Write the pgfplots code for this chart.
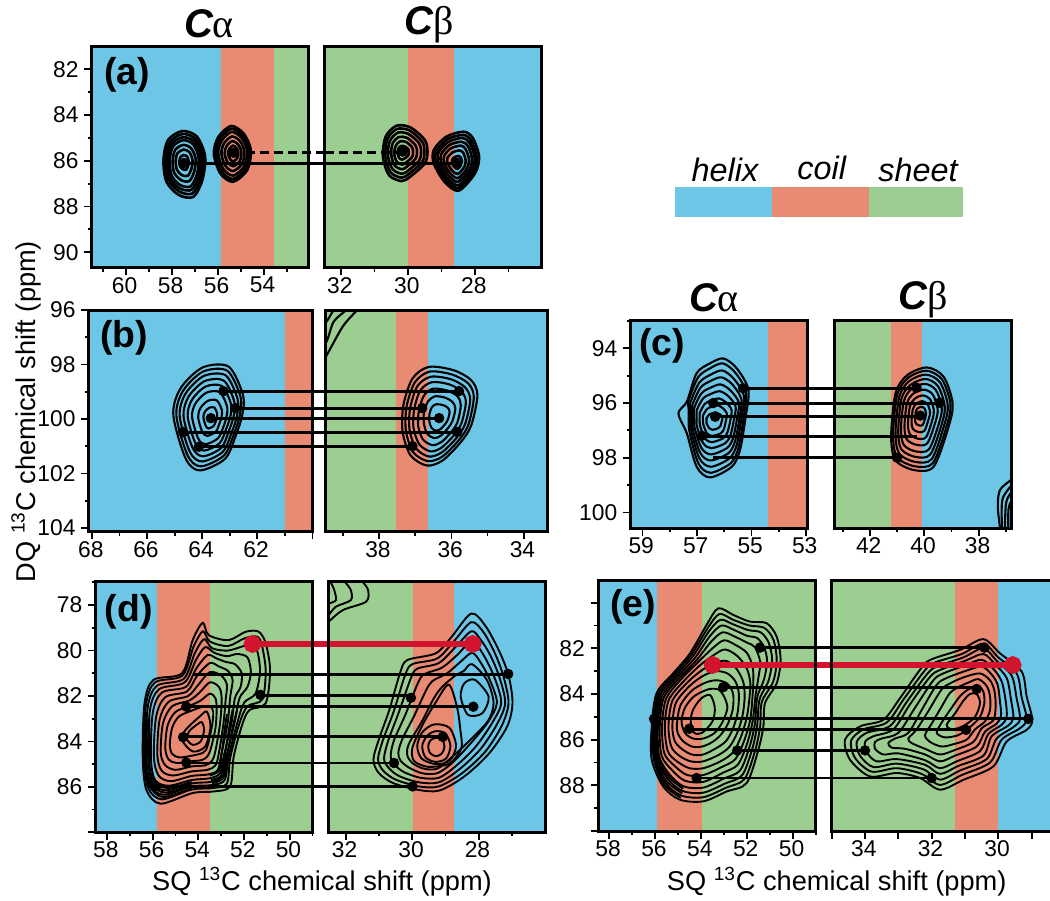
\documentclass[border=0pt]{standalone}
\usepackage{fontspec}
\setmainfont{Liberation Sans}
\newfontfamily\symf{Liberation Serif}
\usepackage{pgfplots}
\pgfplotsset{compat=1.18}
\definecolor{hx}{HTML}{6EC6E6}
\definecolor{cl}{HTML}{E88B72}
\definecolor{sh}{HTML}{9DCE91}
\definecolor{rd}{HTML}{D2142F}
\newcommand\Fs[1]{\fontsize{#1}{#1}\selectfont}
\newcommand\Band[5]{\addplot[fill=#5,draw=none,forget plot] coordinates {(#1,#3)(#2,#3)(#2,#4)(#1,#4)} -- cycle;}
\newcommand\C[1]{\addplot[ct] coordinates {#1};}
\newcommand\A[1]{\addplot[ct,sharp plot,smooth] coordinates {#1};}
\newcommand\Ln[1]{\addplot[lk] coordinates {#1};}
\newcommand\Dots[1]{\addplot[only marks,mark=*,mark size=2.4pt,black,forget plot] coordinates {#1};}
\newcommand\Red[2]{\addplot[rd,line width=3.2pt,mark=*,mark size=2.8pt,mark indices={#1},mark options={fill=rd,draw=rd},forget plot] coordinates {#2};}
\pgfplotsset{
  panel/.style={
    scale only axis,anchor=north west,x dir=reverse,y dir=reverse,axis on top,
    axis line style={line width=1.5pt},
    tick style={line width=.9pt,black},
    major tick length=3.8pt,minor tick length=2pt,tick align=outside,
    xtick pos=bottom,ytick pos=left,
    ticklabel style={font=\Fs{11.4}},
    xticklabel style={yshift=2.6pt,xshift=-.6pt},
    yticklabel style={xshift=.6pt},
    ct/.style={black,line width=.95pt,smooth cycle,no marks,forget plot},
    lk/.style={black,line width=1.4pt,no marks,forget plot},
  },
  noy/.style={ytick=\empty},
  heavy/.style={ct/.append style={line width=1.3pt}},
  mid/.style={ct/.append style={line width=1.05pt},lk/.append style={line width=1.5pt}},
}
\begin{document}
\begin{tikzpicture}
\useasboundingbox (0,0) rectangle (525pt,-450pt);

% (a) C alpha
\begin{axis}[panel,heavy,clip=false,at={(46pt,-23.35pt)},width=108.5pt,height=110.5pt,
  xmin=52.03,xmax=61.47,ymin=81.01,ymax=90.68,
  xtick={60,58,56,54,52},xticklabels={60,58,56,54,{}},minor xtick={61,59,57,55,53},
  ytick={82,84,86,88,90},yticklabels={82,84,86,88,90},minor ytick={83,85,87,89}]
\Band{61.47}{55.86}{81.01}{90.68}{hx}
\Band{55.86}{53.56}{81.01}{90.68}{cl}
\Band{53.56}{52.03}{81.01}{90.68}{sh}
\C{(57.53,84.70)(56.90,84.95)(56.55,85.82)(56.67,86.85)(57.06,87.58)(57.69,87.50)(58.23,86.92)(58.36,85.97)(58.16,85.09)}
\C{(57.52,84.83)(56.96,85.06)(56.64,85.84)(56.75,86.77)(57.10,87.43)(57.67,87.35)(58.15,86.83)(58.27,85.98)(58.09,85.19)}
\C{(57.52,84.97)(57.01,85.17)(56.73,85.87)(56.83,86.69)(57.14,87.27)(57.65,87.21)(58.08,86.75)(58.18,85.99)(58.02,85.28)}
\C{(57.51,85.10)(57.07,85.28)(56.83,85.89)(56.91,86.61)(57.18,87.12)(57.62,87.07)(58.00,86.66)(58.09,85.99)(57.95,85.38)}
\C{(57.50,85.31)(57.16,85.45)(56.96,85.92)(57.03,86.49)(57.24,86.89)(57.59,86.85)(57.89,86.53)(57.96,86.01)(57.85,85.52)}
\C{(57.49,85.51)(57.24,85.61)(57.10,85.96)(57.15,86.37)(57.31,86.66)(57.56,86.63)(57.77,86.40)(57.83,86.02)(57.75,85.67)}
\C{(57.48,85.75)(57.34,85.81)(57.27,86.00)(57.29,86.23)(57.38,86.39)(57.52,86.37)(57.64,86.24)(57.67,86.03)(57.62,85.84)}
\C{(55.42,84.48)(54.88,84.80)(54.56,85.53)(54.72,86.41)(55.34,86.92)(55.89,86.55)(56.17,85.68)(55.97,84.95)}
\C{(55.41,84.60)(54.92,84.89)(54.63,85.54)(54.78,86.34)(55.34,86.80)(55.83,86.46)(56.08,85.68)(55.90,85.02)}
\C{(55.40,84.74)(54.97,84.99)(54.72,85.56)(54.85,86.25)(55.33,86.65)(55.76,86.36)(55.98,85.68)(55.82,85.11)}
\C{(55.38,84.94)(55.04,85.13)(54.84,85.59)(54.94,86.13)(55.33,86.45)(55.67,86.22)(55.84,85.68)(55.72,85.23)}
\C{(55.36,85.14)(55.12,85.28)(54.97,85.61)(55.04,86.01)(55.32,86.24)(55.57,86.07)(55.70,85.68)(55.61,85.35)}
\C{(55.34,85.34)(55.19,85.43)(55.10,85.64)(55.15,85.88)(55.32,86.03)(55.47,85.92)(55.55,85.68)(55.49,85.48)}
\Ln{(57.47,86.12)(51.33,86.12)}
\addplot[black,line width=1.3pt,dash pattern=on 4.5pt off 2.5pt,forget plot] coordinates {(54.75,85.64)(51.33,85.64)};
\Dots{(57.47,86.1)(55.31,85.65)}
\end{axis}

% (a) C beta
\begin{axis}[panel,heavy,noy,at={(162.5pt,-23.35pt)},width=108.5pt,height=110.5pt,
  xmin=26,xmax=32.48,ymin=81.01,ymax=90.68,
  xtick={32,30,28},xticklabels={32,30,28},minor xtick={31,29,27}]
\Band{32.48}{30}{81.01}{90.68}{sh}
\Band{30}{28.64}{81.01}{90.68}{cl}
\Band{28.64}{26}{81.01}{90.68}{hx}
\C{(30.35,84.47)(29.93,84.54)(29.50,85.09)(29.42,85.61)(29.50,86.12)(29.93,86.69)(30.19,86.89)(30.57,86.63)(30.75,85.82)(30.67,84.95)}
\C{(30.33,84.61)(29.96,84.67)(29.58,85.16)(29.51,85.61)(29.58,86.06)(29.96,86.56)(30.19,86.74)(30.52,86.51)(30.68,85.80)(30.61,85.03)}
\C{(30.30,84.77)(29.99,84.83)(29.67,85.23)(29.61,85.62)(29.67,86.00)(29.99,86.42)(30.18,86.57)(30.46,86.37)(30.60,85.77)(30.54,85.13)}
\C{(30.27,84.96)(30.03,85.00)(29.78,85.32)(29.73,85.62)(29.78,85.92)(30.03,86.25)(30.18,86.37)(30.40,86.21)(30.50,85.74)(30.46,85.24)}
\C{(30.24,85.15)(30.06,85.18)(29.88,85.41)(29.85,85.63)(29.88,85.84)(30.06,86.08)(30.17,86.17)(30.33,86.06)(30.41,85.72)(30.37,85.35)}
\C{(30.21,85.35)(30.10,85.37)(29.99,85.50)(29.98,85.63)(29.99,85.76)(30.10,85.90)(30.17,85.95)(30.26,85.89)(30.31,85.68)(30.29,85.47)}
\C{(28.33,84.73)(28.06,85.02)(27.88,85.82)(28.00,86.55)(28.49,87.31)(28.91,86.92)(29.23,86.12)(29.23,85.53)(28.86,84.95)}
\C{(28.35,84.87)(28.11,85.13)(27.95,85.85)(28.05,86.50)(28.49,87.19)(28.87,86.84)(29.16,86.12)(29.16,85.59)(28.83,85.06)}
\C{(28.37,85.00)(28.16,85.23)(28.01,85.87)(28.11,86.46)(28.50,87.07)(28.84,86.75)(29.09,86.11)(29.09,85.64)(28.80,85.18)}
\C{(28.40,85.17)(28.21,85.36)(28.09,85.91)(28.17,86.40)(28.51,86.92)(28.79,86.65)(29.01,86.11)(29.01,85.71)(28.76,85.31)}
\C{(28.42,85.34)(28.28,85.50)(28.18,85.94)(28.24,86.34)(28.51,86.76)(28.74,86.55)(28.92,86.11)(28.92,85.78)(28.72,85.46)}
\C{(28.46,85.55)(28.35,85.66)(28.28,85.98)(28.32,86.27)(28.52,86.58)(28.69,86.42)(28.82,86.10)(28.82,85.87)(28.67,85.63)}
\C{(28.49,85.79)(28.43,85.85)(28.39,86.03)(28.42,86.19)(28.53,86.36)(28.62,86.27)(28.69,86.10)(28.69,85.97)(28.61,85.84)}
\Ln{(32.48,86.12)(28.54,86.12)}
\addplot[black,line width=1.3pt,dash pattern=on 4.5pt off 2.5pt,forget plot] coordinates {(32.48,85.64)(30.16,85.64)};
\Dots{(30.16,85.6)(28.54,86.09)}
\end{axis}

% (b) C alpha
\begin{axis}[panel,mid,clip=false,at={(44.5pt,-155pt)},width=111.75pt,height=110.85pt,
  xmin=60,xmax=68.11,ymin=96,ymax=104.14,
  xtick={68,66,64,62,60},xticklabels={68,66,64,62,{}},minor xtick={67,65,63,61},
  ytick={96,98,100,102,104},yticklabels={96,98,100,102,104},minor ytick={97,99,101,103}]
\Band{68.11}{61}{96}{104.14}{hx}
\Band{61}{60}{96}{104.14}{cl}
\C{(63.04,98.08)(62.52,99.12)(62.55,99.86)(62.78,100.60)(63.17,101.46)(64.08,101.89)(64.60,101.46)(65.05,99.86)(64.79,98.88)(63.99,98.11)}
\C{(63.09,98.23)(62.61,99.19)(62.64,99.87)(62.85,100.55)(63.21,101.34)(64.05,101.74)(64.53,101.34)(64.94,99.87)(64.70,98.97)(63.97,98.26)}
\C{(63.15,98.40)(62.72,99.26)(62.74,99.88)(62.93,100.49)(63.26,101.21)(64.01,101.56)(64.45,101.21)(64.82,99.88)(64.60,99.06)(63.94,98.42)}
\C{(63.22,98.59)(62.84,99.35)(62.86,99.89)(63.03,100.43)(63.31,101.06)(63.97,101.37)(64.35,101.06)(64.68,99.89)(64.49,99.17)(63.91,98.61)}
\C{(63.29,98.79)(62.96,99.44)(62.98,99.90)(63.13,100.36)(63.37,100.89)(63.93,101.16)(64.25,100.89)(64.53,99.90)(64.37,99.29)(63.88,98.81)}
\C{(63.36,99.02)(63.10,99.54)(63.12,99.91)(63.23,100.28)(63.43,100.71)(63.89,100.93)(64.15,100.71)(64.37,99.91)(64.24,99.42)(63.84,99.03)}
\C{(63.47,99.32)(63.29,99.67)(63.30,99.93)(63.38,100.18)(63.51,100.47)(63.82,100.62)(64.00,100.47)(64.15,99.93)(64.06,99.59)(63.79,99.33)}
\C{(63.56,99.58)(63.46,99.79)(63.46,99.94)(63.51,100.09)(63.59,100.26)(63.77,100.35)(63.87,100.26)(63.96,99.94)(63.91,99.74)(63.75,99.59)}
\Ln{(63.23,98.98)(59.56,98.98)}
\Ln{(62.80,99.6)(59.56,99.6)}
\Ln{(63.69,99.97)(59.56,99.97)}
\Ln{(64.69,100.48)(59.56,100.48)}
\Ln{(64.12,101.02)(59.56,101.02)}
\Dots{(63.23,98.98)(62.80,99.6)(63.69,99.97)(64.69,100.48)(64.12,101.02)}
\end{axis}

% (b) C beta
\begin{axis}[panel,mid,noy,at={(162.5pt,-155pt)},width=111.25pt,height=110.85pt,
  xmin=33.34,xmax=39.5,ymin=96,ymax=104.14,
  xtick={38,36,34},xticklabels={38,36,34},minor xtick={39,37,35}]
\Band{39.5}{37.54}{96}{104.14}{sh}
\Band{37.54}{36.65}{96}{104.14}{cl}
\Band{36.65}{33.34}{96}{104.14}{hx}
\A{(38.50,95.8)(38.61,96)(39.01,96.61)(39.48,97.72)(39.7,98.1)}
\A{(38.80,95.8)(38.91,96)(39.26,96.43)(39.46,97.17)(39.7,97.5)}
\A{(39.15,95.8)(39.26,96)(39.46,96.43)(39.7,96.8)}
\C{(36.63,98.09)(35.94,98.21)(35.45,98.58)(35.28,99.13)(35.45,100.23)(35.74,100.85)(36.24,101.52)(36.68,101.71)(37.13,101.34)(37.35,100.48)(37.33,99.50)(37.08,98.52)}
\C{(36.60,98.26)(35.98,98.37)(35.53,98.70)(35.38,99.20)(35.53,100.21)(35.79,100.77)(36.25,101.38)(36.65,101.55)(37.06,101.22)(37.26,100.43)(37.24,99.54)(37.01,98.65)}
\C{(36.57,98.45)(36.02,98.54)(35.62,98.84)(35.48,99.29)(35.62,100.18)(35.85,100.68)(36.26,101.22)(36.62,101.38)(36.98,101.08)(37.16,100.38)(37.14,99.59)(36.94,98.79)}
\C{(36.54,98.65)(36.06,98.73)(35.72,98.99)(35.60,99.38)(35.72,100.15)(35.92,100.58)(36.27,101.05)(36.58,101.19)(36.89,100.93)(37.05,100.32)(37.03,99.64)(36.86,98.95)}
\C{(36.51,98.89)(36.11,98.96)(35.83,99.17)(35.74,99.49)(35.83,100.11)(36.00,100.47)(36.28,100.85)(36.53,100.96)(36.79,100.75)(36.92,100.26)(36.90,99.70)(36.76,99.14)}
\C{(36.46,99.17)(36.17,99.22)(35.97,99.38)(35.89,99.61)(35.97,100.07)(36.09,100.33)(36.30,100.62)(36.48,100.70)(36.67,100.54)(36.76,100.18)(36.76,99.77)(36.65,99.36)}
\C{(36.42,99.46)(36.23,99.49)(36.10,99.59)(36.05,99.74)(36.10,100.03)(36.18,100.20)(36.31,100.38)(36.43,100.43)(36.55,100.33)(36.61,100.10)(36.61,99.84)(36.54,99.57)}
\Ln{(39.5,98.98)(35.79,98.98)}
\Ln{(39.5,99.6)(36.81,99.6)}
\Ln{(39.5,99.97)(36.34,99.97)}
\Ln{(39.5,100.48)(35.84,100.48)}
\Ln{(39.5,101.02)(37.08,101.02)}
\Dots{(35.79,98.98)(36.81,99.6)(36.34,99.97)(35.84,100.48)(37.08,101.0)}
\end{axis}

% (c) C alpha
\begin{axis}[panel,mid,clip=false,at={(315.35pt,-160.35pt)},width=88.3pt,height=103.65pt,
  xmin=52.95,xmax=59.43,ymin=92.99,ymax=100.57,
  xtick={59,57,55,53},xticklabels={59,57,55,53},minor xtick={58,56,54},
  ytick={94,96,98,100},yticklabels={94,96,98,100},minor ytick={93,95,97,99}]
\Band{59.43}{54.39}{92.99}{100.57}{hx}
\Band{54.39}{52.95}{92.99}{100.57}{cl}
\C{(56.03,94.37)(55.54,94.73)(55.11,95.52)(55.23,96.62)(55.42,97.72)(55.72,98.33)(56.52,98.72)(57.01,98.33)(57.37,97.11)(57.68,96.38)(57.37,95.95)(57.01,94.91)(56.52,94.55)}
\C{(56.05,94.55)(55.60,94.88)(55.20,95.60)(55.30,96.62)(55.48,97.65)(55.76,98.20)(56.50,98.55)(56.95,98.20)(57.28,97.00)(57.30,96.30)(57.30,95.90)(56.95,95.05)(56.50,94.72)}
\C{(56.07,94.81)(55.66,95.10)(55.28,95.73)(55.38,96.63)(55.54,97.53)(55.80,98.02)(56.49,98.33)(56.91,98.02)(57.22,96.96)(57.24,96.35)(57.24,95.99)(56.91,95.25)(56.49,94.96)}
\C{(56.10,95.06)(55.71,95.31)(55.37,95.86)(55.45,96.63)(55.61,97.42)(55.85,97.84)(56.49,98.10)(56.87,97.84)(57.16,96.92)(57.17,96.39)(57.17,96.09)(56.87,95.44)(56.49,95.19)}
\C{(56.13,95.32)(55.78,95.53)(55.46,95.99)(55.54,96.64)(55.68,97.30)(55.90,97.65)(56.48,97.88)(56.83,97.65)(57.09,96.88)(57.10,96.44)(57.10,96.18)(56.83,95.64)(56.48,95.43)}
\C{(56.16,95.57)(55.86,95.74)(55.58,96.12)(55.65,96.65)(55.77,97.18)(55.96,97.47)(56.47,97.65)(56.77,97.47)(57.00,96.85)(57.01,96.48)(57.01,96.27)(56.77,95.83)(56.47,95.66)}
\C{(56.20,95.83)(55.95,95.96)(55.73,96.25)(55.78,96.66)(55.88,97.07)(56.04,97.29)(56.46,97.43)(56.71,97.29)(56.89,96.81)(56.90,96.53)(56.90,96.37)(56.71,96.03)(56.46,95.90)}
\C{(56.25,96.08)(56.06,96.18)(55.90,96.38)(55.94,96.66)(56.01,96.95)(56.13,97.11)(56.44,97.20)(56.63,97.11)(56.77,96.77)(56.78,96.57)(56.78,96.46)(56.63,96.22)(56.44,96.13)}
\C{(56.30,96.34)(56.18,96.40)(56.06,96.51)(56.09,96.67)(56.14,96.84)(56.22,96.92)(56.43,96.98)(56.55,96.92)(56.65,96.73)(56.65,96.62)(56.65,96.56)(56.55,96.42)(56.43,96.37)}
\Ln{(55.30,95.46)(51.97,95.46)}
\Ln{(56.40,96.00)(51.97,96.00)}
\Ln{(56.33,96.50)(51.97,96.50)}
\Ln{(56.82,97.22)(51.97,97.22)}
\Ln{(56.40,98.00)(51.97,98.00)}
\Dots{(55.30,95.46)(56.40,96.00)(56.33,96.50)(56.82,97.20)}
\end{axis}

% (c) C beta
\begin{axis}[panel,mid,noy,at={(417pt,-160.35pt)},width=88.85pt,height=103.65pt,
  xmin=36.79,xmax=43.32,ymin=92.99,ymax=100.57,
  xtick={42,40,38},xticklabels={42,40,38},minor xtick={43,41,39,37}]
\Band{43.32}{41.24}{92.99}{100.57}{sh}
\Band{41.24}{40.09}{92.99}{100.57}{cl}
\Band{40.09}{36.79}{92.99}{100.57}{hx}
\C{(39.90,94.70)(39.29,95.04)(38.96,96.01)(39.11,96.87)(39.66,98.33)(40.39,98.45)(41.06,98.09)(41.22,97.23)(41.06,95.65)(40.63,94.98)}
\C{(39.92,94.82)(39.35,95.14)(39.04,96.04)(39.18,96.84)(39.69,98.20)(40.37,98.31)(41.00,97.98)(41.15,97.18)(41.00,95.71)(40.60,95.08)}
\C{(39.94,94.96)(39.42,95.25)(39.14,96.08)(39.27,96.81)(39.73,98.05)(40.35,98.15)(40.92,97.85)(41.06,97.11)(40.92,95.77)(40.56,95.20)}
\C{(39.96,95.12)(39.50,95.38)(39.25,96.12)(39.36,96.77)(39.78,97.88)(40.33,97.97)(40.84,97.70)(40.96,97.05)(40.84,95.84)(40.51,95.34)}
\C{(39.98,95.30)(39.58,95.52)(39.36,96.16)(39.46,96.73)(39.83,97.69)(40.31,97.77)(40.75,97.54)(40.86,96.97)(40.75,95.93)(40.47,95.48)}
\C{(40.01,95.51)(39.69,95.69)(39.51,96.22)(39.59,96.68)(39.89,97.47)(40.28,97.53)(40.64,97.34)(40.73,96.88)(40.64,96.02)(40.41,95.66)}
\C{(40.05,95.72)(39.79,95.86)(39.65,96.27)(39.71,96.63)(39.94,97.25)(40.25,97.30)(40.53,97.14)(40.60,96.78)(40.53,96.12)(40.35,95.84)}
\C{(40.08,95.93)(39.89,96.03)(39.79,96.33)(39.84,96.58)(40.00,97.02)(40.22,97.06)(40.42,96.95)(40.47,96.69)(40.42,96.22)(40.29,96.02)}
\C{(40.11,96.14)(39.99,96.20)(39.94,96.38)(39.96,96.53)(40.06,96.80)(40.19,96.82)(40.31,96.75)(40.34,96.60)(40.31,96.31)(40.24,96.19)}
\A{(36.6,98.6)(36.79,98.79)(37.22,99.18)(37.30,99.79)(37.22,100.57)(37.2,100.8)}
\A{(36.6,98.8)(36.79,99.00)(37.10,99.43)(37.16,99.9)(37.14,100.8)}
\A{(36.6,99.0)(36.79,99.24)(37.00,99.67)(37.04,100.8)}
\A{(36.6,99.3)(36.79,99.55)(36.91,99.91)(36.91,100.8)}
\Ln{(43.32,95.46)(40.29,95.46)}
\Ln{(43.32,96.00)(39.44,96.00)}
\Ln{(43.32,96.50)(40.15,96.50)}
\Ln{(43.32,97.22)(40.27,97.22)}
\Ln{(43.32,98.00)(41.00,98.00)}
\Dots{(40.29,95.44)(39.44,95.99)(40.15,96.46)(41.00,98.00)}
\end{axis}

% (d) C alpha
\begin{axis}[panel,clip=false,at={(47.85pt,-290.85pt)},width=108.4pt,height=125.3pt,
  xmin=49,xmax=58.5,ymin=76.97,ymax=88,
  xtick={58,56,54,52,50},xticklabels={58,56,54,52,50},minor xtick={57,55,53,51,49},
  ytick={78,80,82,84,86,88},yticklabels={78,80,82,84,86,{}},minor ytick={77,79,81,83,85,87}]
\Band{58.5}{55.81}{76.97}{88}{hx}
\Band{55.81}{53.47}{76.97}{88}{cl}
\Band{53.47}{49}{76.97}{88}{sh}
\C{(53.81,78.78)(53.55,79.32)(52.69,79.54)(51.91,79.17)(51.36,79.17)(51.05,79.68)(50.86,80.86)(51.05,82.32)(51.75,82.61)(52.06,83.20)(52.45,84.66)(52.61,85.98)(53.31,86.20)(54.25,86.27)(55.66,86.74)(56.28,86.13)(56.44,84.66)(56.36,82.32)(55.97,81.29)(54.72,81.00)(54.25,79.54)}
\C{(53.80,79.15)(53.50,79.60)(52.70,79.80)(51.95,79.45)(51.40,79.40)(51.20,79.85)(51.05,80.90)(51.20,82.15)(51.85,82.45)(52.20,83.20)(52.60,84.70)(52.75,85.85)(53.35,86.05)(54.30,86.12)(55.60,86.55)(56.20,86.05)(56.38,84.70)(56.30,82.40)(55.90,81.40)(54.70,81.10)(54.20,79.80)}
\C{(53.75,79.50)(53.40,79.90)(52.70,80.00)(52.00,79.80)(51.60,79.80)(51.40,80.10)(51.30,80.95)(51.50,81.90)(52.00,82.30)(52.30,83.20)(52.68,84.70)(52.85,85.70)(53.40,85.92)(54.30,85.98)(55.50,86.35)(56.10,85.95)(56.30,84.70)(56.22,82.50)(55.82,81.55)(54.65,81.25)(54.15,80.10)}
\C{(53.70,79.85)(53.30,80.10)(52.75,80.25)(52.30,80.15)(51.85,80.30)(51.70,80.95)(51.85,81.60)(52.20,82.10)(52.42,83.20)(52.78,84.70)(52.95,85.55)(53.45,85.78)(54.30,85.85)(55.40,86.15)(56.00,85.85)(56.20,84.70)(56.12,82.60)(55.72,81.70)(54.60,81.40)(54.10,80.40)}
\C{(53.60,80.20)(53.20,80.35)(52.80,80.50)(52.40,80.60)(52.10,81.00)(52.15,81.60)(52.40,82.10)(52.55,83.20)(52.90,84.70)(53.05,85.40)(53.50,85.62)(54.30,85.70)(55.30,85.95)(55.90,85.70)(56.08,84.70)(56.00,82.75)(55.60,81.85)(54.55,81.60)(54.10,80.80)}
\C{(53.50,80.55)(53.10,80.70)(52.70,80.90)(52.50,81.30)(52.60,82.00)(52.72,83.20)(53.00,84.60)(53.15,85.25)(53.55,85.45)(54.30,85.52)(55.20,85.75)(55.75,85.50)(55.95,84.65)(55.85,82.90)(55.45,82.05)(54.50,81.80)(54.05,81.10)}
\C{(53.50,80.95)(53.00,81.10)(52.75,81.50)(52.80,82.10)(52.90,83.20)(53.10,84.50)(53.25,85.05)(53.60,85.25)(54.30,85.32)(55.10,85.50)(55.60,85.30)(55.80,84.60)(55.70,83.05)(55.30,82.25)(54.45,82.00)(54.00,81.50)}
\C{(53.50,81.40)(53.10,81.60)(52.98,82.10)(53.05,83.20)(53.25,84.40)(53.40,84.85)(53.70,85.05)(54.30,85.10)(55.00,85.25)(55.45,85.05)(55.65,84.50)(55.55,83.20)(55.15,82.45)(54.40,82.20)(53.95,81.85)}
\C{(53.50,81.90)(53.25,82.10)(53.20,82.60)(53.25,83.40)(53.45,84.30)(53.60,84.65)(53.85,84.82)(54.40,84.88)(54.95,84.95)(55.30,84.80)(55.45,84.30)(55.35,83.30)(55.00,82.70)(54.35,82.42)(53.90,82.20)}
\C{(53.50,82.45)(53.35,82.70)(53.40,83.30)(53.60,84.20)(53.80,84.50)(54.40,84.65)(54.85,84.70)(55.15,84.55)(55.25,84.15)(55.15,83.40)(54.85,82.90)(54.30,82.65)(53.90,82.50)}
\C{(53.63,82.69)(53.47,83.34)(53.70,84.22)(54.25,84.44)(54.72,83.93)(54.56,83.49)(53.94,82.90)}
\C{(53.85,83.15)(53.75,83.50)(53.90,84.00)(54.25,84.15)(54.50,83.90)(54.40,83.55)(54.05,83.25)}
\A{(52.30,82.60)(52.50,83.40)(52.75,84.70)(52.90,85.60)(53.40,85.85)}
\A{(52.50,82.60)(52.65,83.40)(52.85,84.70)(53.00,85.50)(53.45,85.70)}
\A{(52.75,82.80)(52.85,83.50)(53.00,84.70)(53.10,85.30)(53.50,85.50)}
\A{(56.32,83.00)(56.34,85.00)(56.15,85.95)(55.55,86.45)(54.30,86.05)}
\A{(56.25,83.00)(56.26,85.00)(56.05,85.90)(55.45,86.25)(54.30,85.92)}
\A{(56.15,83.00)(56.14,85.00)(55.95,85.75)(55.35,86.05)(54.30,85.78)}
\Ln{(54.25,81.05)(48.31,81.05)}
\Ln{(51.28,81.98)(48.31,81.98)}
\Ln{(54.53,82.47)(48.31,82.47)}
\Ln{(54.67,83.80)(48.31,83.80)}
\Ln{(54.53,84.95)(48.31,84.95)}
\Ln{(55.90,85.98)(48.31,85.98)}
\Dots{(51.28,81.95)(54.53,82.47)(54.67,83.81)(54.53,84.93)(55.90,85.98)}
\Red{1}{(51.63,79.71)(48.31,79.71)}
\end{axis}

% (d) C beta
\begin{axis}[panel,noy,at={(164.3pt,-290.85pt)},width=108.55pt,height=125.3pt,
  xmin=25.98,xmax=32.52,ymin=76.97,ymax=88,
  xtick={32,30,28},xticklabels={32,30,28},minor xtick={31,29,27}]
\Band{32.52}{29.97}{76.97}{88}{sh}
\Band{29.97}{28.75}{76.97}{88}{cl}
\Band{28.75}{25.98}{76.97}{88}{hx}
\A{(32.7,78.95)(32.52,78.73)(32.09,78.22)(31.39,77.85)(31.33,77.34)(31.49,76.97)(31.6,76.7)}
\A{(32.7,78.65)(32.52,78.44)(32.30,78.07)(31.85,77.78)(31.85,77.34)(32.03,76.97)(32.15,76.7)}
\A{(32.7,78.0)(32.52,77.93)(32.30,77.78)(32.35,77.34)(32.46,76.97)(32.55,76.7)}
\C{(28.22,78.37)(27.78,78.95)(27.35,80.12)(27.09,81.15)(26.98,82.32)(27.14,83.34)(27.68,84.52)(28.43,85.54)(29.18,86.16)(29.83,86.13)(30.58,85.83)(31.01,85.39)(31.17,84.81)(31.01,83.93)(30.69,82.61)(30.37,81.00)(30.15,80.42)(29.29,80.12)(28.81,79.39)}
\C{(28.22,78.75)(27.85,79.20)(27.50,80.15)(27.25,81.15)(27.10,82.30)(27.30,83.30)(27.80,84.45)(28.50,85.40)(29.20,85.98)(29.80,85.98)(30.50,85.68)(30.88,85.28)(31.03,84.78)(30.88,83.93)(30.55,82.65)(30.22,81.10)(30.00,80.60)(29.25,80.35)(28.75,79.60)}
\C{(28.22,79.15)(27.95,79.50)(27.65,80.20)(27.38,81.15)(27.20,82.30)(27.45,83.25)(27.95,84.35)(28.60,85.25)(29.20,85.80)(29.80,85.80)(30.40,85.52)(30.72,85.15)(30.85,84.75)(30.72,83.95)(30.40,82.70)(30.05,81.25)(29.85,80.80)(29.20,80.55)(28.70,79.85)}
\C{(28.20,79.60)(27.85,80.20)(27.52,81.20)(27.32,82.30)(27.60,83.20)(28.10,84.25)(28.70,85.10)(29.20,85.60)(29.75,85.60)(30.25,85.35)(30.55,85.00)(30.65,84.65)(30.55,83.95)(30.20,82.80)(29.85,81.50)(29.65,81.05)(29.10,80.75)(28.65,80.20)}
\C{(28.20,80.10)(27.95,80.50)(27.66,81.30)(27.45,82.30)(27.72,83.15)(28.25,84.10)(28.80,84.95)(29.25,85.40)(29.70,85.40)(30.10,85.15)(30.35,84.85)(30.42,84.50)(30.30,83.90)(29.95,82.90)(29.60,81.80)(29.40,81.35)(28.95,81.00)(28.55,80.50)}
\C{(28.20,80.60)(27.75,81.30)(27.55,82.30)(27.72,83.10)(28.30,84.00)(28.85,84.75)(29.25,85.20)(29.65,85.20)(30.00,84.95)(30.15,84.60)(30.10,84.10)(29.70,83.10)(29.35,82.10)(29.10,81.60)(28.70,81.10)(28.45,80.90)}
\C{(28.90,81.50)(28.65,82.50)(28.55,83.50)(28.52,84.30)(28.85,84.95)(29.25,85.10)(29.60,85.10)(29.95,84.85)(30.00,84.30)(29.70,83.30)(29.30,82.30)}
\C{(29.34,83.25)(28.88,83.40)(28.68,84.20)(28.88,84.85)(29.30,85.00)(29.72,84.75)(29.85,84.20)(29.70,83.60)}
\C{(29.30,83.55)(29.00,83.65)(28.85,84.20)(28.98,84.75)(29.30,84.90)(29.60,84.70)(29.70,84.20)(29.55,83.75)}
\C{(29.30,83.85)(29.10,83.90)(29.03,84.25)(29.12,84.55)(29.30,84.65)(29.47,84.50)(29.52,84.20)(29.45,83.95)}
\C{(28.11,81.29)(27.70,82.03)(27.89,82.76)(28.32,82.83)(28.54,82.03)(28.43,81.44)}
\Ln{(32.52,81.05)(27.11,81.05)}
\Ln{(32.52,81.98)(30.04,81.98)}
\Ln{(32.52,82.47)(28.16,82.47)}
\Ln{(32.52,83.80)(29.08,83.80)}
\Ln{(32.52,84.95)(30.55,84.95)}
\Ln{(32.52,85.98)(29.99,85.98)}
\Dots{(27.11,81.03)(30.04,82.08)(28.16,82.47)(29.08,83.80)(30.55,84.95)(29.99,85.98)}
\Red{2}{(32.52,79.71)(28.18,79.71)}
\end{axis}

% (e) C alpha
\begin{axis}[panel,clip=false,at={(299.15pt,-290.35pt)},width=108.7pt,height=125.15pt,
  xmin=49,xmax=58.48,ymin=79.04,ymax=90,
  xtick={58,56,54,52,50},xticklabels={58,56,54,52,50},minor xtick={57,55,53,51,49},
  ytick={80,82,84,86,88,90},yticklabels={{},82,84,86,88,{}},minor ytick={81,83,85,87,89}]
\Band{58.48}{55.94}{79.04}{90}{hx}
\Band{55.94}{53.96}{79.04}{90}{cl}
\Band{53.96}{49}{79.04}{90}{sh}
\C{(53.25,80.25)(52.59,80.54)(51.87,80.83)(51.14,80.90)(50.70,81.49)(50.53,82.51)(50.70,83.53)(51.21,84.40)(51.28,85.42)(51.50,86.44)(52.01,87.90)(52.88,88.27)(53.90,88.70)(54.92,88.63)(55.65,88.05)(56.15,86.88)(56.15,85.42)(55.94,83.97)(55.21,83.09)(54.48,82.22)(53.76,80.98)}
\C{(53.20,80.50)(52.60,80.75)(51.90,81.00)(51.25,81.10)(50.85,81.60)(50.70,82.50)(50.85,83.45)(51.35,84.35)(51.42,85.40)(51.62,86.40)(52.10,87.72)(52.90,88.10)(53.90,88.52)(54.85,88.45)(55.55,87.90)(56.02,86.85)(56.05,85.42)(55.85,84.00)(55.12,83.10)(54.40,82.25)(53.70,81.10)}
\C{(53.15,80.75)(52.60,80.95)(51.95,81.20)(51.40,81.30)(51.05,81.75)(50.90,82.50)(51.05,83.40)(51.45,84.25)(51.55,85.35)(51.75,86.35)(52.20,87.55)(52.95,87.92)(53.90,88.32)(54.80,88.25)(55.45,87.72)(55.92,86.80)(55.97,85.42)(55.78,84.05)(55.05,83.15)(54.32,82.30)(53.65,81.25)}
\C{(53.10,81.00)(52.55,81.20)(52.00,81.45)(51.55,81.55)(51.25,81.95)(51.12,82.55)(51.25,83.35)(51.55,84.15)(51.65,85.30)(51.88,86.30)(52.30,87.35)(53.00,87.70)(53.90,88.10)(54.75,88.05)(55.35,87.55)(55.82,86.75)(55.88,85.42)(55.70,84.10)(54.98,83.20)(54.25,82.40)(53.60,81.45)}
\C{(53.05,81.30)(52.50,81.50)(52.00,81.75)(51.65,81.95)(51.42,82.60)(51.50,83.30)(51.62,84.05)(51.75,85.20)(52.00,86.20)(52.40,87.10)(53.05,87.45)(53.90,87.85)(54.70,87.80)(55.25,87.35)(55.72,86.70)(55.80,85.42)(55.62,84.15)(54.90,83.25)(54.18,82.50)(53.55,81.70)}
\C{(53.00,81.65)(52.50,81.85)(52.00,82.20)(51.75,82.80)(51.72,83.40)(51.75,84.05)(51.85,85.10)(52.12,86.05)(52.50,86.85)(53.10,87.20)(53.90,87.55)(54.60,87.55)(55.15,87.15)(55.60,86.60)(55.70,85.42)(55.52,84.20)(54.82,83.30)(54.12,82.60)(53.50,82.00)}
\C{(52.95,82.05)(52.40,82.35)(52.00,82.90)(51.85,83.50)(51.88,84.10)(52.00,85.00)(52.25,85.85)(52.60,86.55)(53.15,86.95)(53.90,87.25)(54.50,87.25)(55.05,86.95)(55.45,86.50)(55.58,85.42)(55.40,84.25)(54.72,83.40)(54.05,82.75)(53.45,82.30)}
\C{(52.90,82.55)(52.45,82.90)(52.15,83.50)(52.10,84.20)(52.20,85.00)(52.42,85.70)(52.75,86.30)(53.20,86.65)(53.90,86.95)(54.45,86.95)(54.95,86.70)(55.30,86.30)(55.42,85.42)(55.25,84.30)(54.60,83.50)(53.95,82.95)(53.40,82.65)}
\C{(52.85,83.10)(52.50,83.45)(52.35,84.00)(52.40,84.80)(52.60,85.50)(52.90,86.05)(53.30,86.35)(53.90,86.65)(54.40,86.65)(54.85,86.40)(55.15,86.05)(55.25,85.40)(55.10,84.40)(54.50,83.65)(53.90,83.20)(53.35,83.00)}
\C{(52.85,83.55)(52.60,84.00)(52.62,84.70)(52.85,85.35)(53.15,85.80)(53.50,86.10)(53.95,86.30)(54.40,86.30)(54.80,86.05)(55.02,85.70)(55.05,85.30)(54.90,84.50)(54.40,83.85)(53.80,83.50)(53.30,83.40)}
\C{(53.00,84.10)(52.85,84.60)(53.05,85.20)(53.40,85.70)(53.90,85.95)(54.35,85.95)(54.70,85.70)(54.85,85.20)(54.70,84.60)(54.30,84.10)(53.70,83.80)(53.25,83.80)}
\C{(53.60,84.05)(53.40,84.60)(53.50,85.20)(53.95,85.70)(54.30,85.70)(54.45,85.20)(54.35,84.70)(54.00,84.20)}
\A{(55.90,83.90)(56.08,85.42)(56.06,86.85)(55.60,87.98)(54.88,88.55)}
\A{(55.80,84.02)(56.00,85.42)(55.97,86.82)(55.50,87.82)(54.82,88.35)}
\A{(55.72,84.08)(55.92,85.42)(55.87,86.78)(55.40,87.64)(54.78,88.15)}
\Ln{(51.43,81.97)(48.31,81.97)}
\Ln{(53.03,83.72)(48.31,83.72)}
\Ln{(56.05,85.09)(48.31,85.09)}
\Ln{(54.51,85.55)(48.31,85.55)}
\Ln{(52.42,86.47)(48.31,86.47)}
\Ln{(54.19,87.68)(48.31,87.68)}
\Dots{(51.43,81.97)(53.03,83.70)(56.05,85.09)(54.51,85.52)(52.42,86.47)(54.19,87.68)}
\Red{1}{(53.49,82.73)(48.31,82.73)}
\end{axis}

% (e) C beta
\begin{axis}[panel,noy,at={(415.85pt,-290.35pt)},width=110.15pt,height=125.15pt,
  xmin=28.39,xmax=35,ymin=79.04,ymax=90,
  xtick={35,34,33,32,31,30,29},xticklabels={{},34,{},32,{},30,{}}]
\Band{35}{31.3}{79.04}{90}{sh}
\Band{31.3}{30}{79.04}{90}{cl}
\Band{30}{28.39}{79.04}{90}{hx}
\C{(30.45,81.60)(29.95,82.22)(29.30,83.02)(29.15,84.11)(28.98,85.13)(29.15,85.57)(29.75,86.08)(30.15,87.17)(31.05,87.76)(31.75,88.19)(32.35,87.68)(33.05,87.46)(33.85,87.61)(34.45,86.88)(34.60,86.00)(34.15,85.42)(33.45,85.13)(32.95,84.18)(32.35,82.94)(32.05,82.51)(31.15,82.07)}
\C{(30.45,81.80)(30.00,82.40)(29.45,83.10)(29.30,84.15)(29.15,85.10)(29.35,85.50)(29.90,86.00)(30.25,87.00)(31.10,87.55)(31.75,87.98)(32.30,87.50)(33.05,87.25)(33.80,87.40)(34.30,86.80)(34.42,86.05)(34.05,85.55)(33.35,85.25)(32.85,84.25)(32.25,83.05)(31.95,82.65)(31.10,82.25)}
\C{(30.45,82.00)(30.05,82.55)(29.60,83.20)(29.45,84.20)(29.35,85.10)(29.55,85.45)(30.05,85.95)(30.35,86.85)(31.15,87.35)(31.75,87.75)(32.25,87.30)(33.05,87.05)(33.75,87.20)(34.15,86.70)(34.25,86.10)(33.95,85.70)(33.25,85.40)(32.75,84.35)(32.15,83.15)(31.85,82.80)(31.05,82.40)}
\C{(30.45,82.25)(30.10,82.70)(29.75,83.30)(29.62,84.25)(29.55,85.05)(29.72,85.40)(30.20,85.85)(30.45,86.70)(31.20,87.15)(31.75,87.50)(32.20,87.10)(33.05,86.85)(33.65,86.95)(33.95,86.55)(34.00,86.10)(33.75,85.85)(33.15,85.55)(32.65,84.45)(32.05,83.25)(31.75,82.95)(31.00,82.55)}
\C{(30.50,82.50)(30.15,82.90)(29.90,83.45)(29.78,84.30)(29.75,85.00)(29.90,85.35)(30.30,85.75)(30.55,86.50)(31.25,86.95)(31.75,87.25)(32.20,86.90)(33.00,86.60)(33.45,86.65)(33.70,86.40)(33.70,86.10)(33.50,85.95)(33.00,85.70)(32.50,84.60)(31.95,83.40)(31.65,83.10)(31.00,82.75)}
\C{(30.50,82.80)(30.20,83.15)(30.02,83.60)(29.95,84.35)(29.92,84.95)(30.05,85.30)(30.40,85.65)(30.65,86.30)(31.30,86.70)(31.75,86.95)(32.20,86.65)(32.80,86.40)(33.20,86.35)(33.30,86.15)(33.10,85.95)(32.70,85.70)(32.30,84.70)(31.85,83.60)(31.55,83.30)(31.00,83.00)}
\C{(30.55,83.10)(30.25,83.40)(30.12,83.85)(30.08,84.50)(30.15,85.15)(30.50,85.50)(30.75,86.10)(31.30,86.45)(31.75,86.65)(32.20,86.40)(32.60,86.15)(32.70,85.95)(32.45,85.55)(32.10,84.75)(31.70,83.80)(31.40,83.50)(31.00,83.25)}
\C{(30.60,83.35)(30.35,83.65)(30.25,84.10)(30.25,84.70)(30.40,85.20)(30.70,85.55)(30.95,86.00)(31.35,86.20)(31.70,86.30)(32.05,86.10)(32.20,85.80)(32.00,85.30)(31.70,84.55)(31.45,83.95)(31.20,83.70)(30.90,83.50)}
\C{(30.60,83.65)(30.45,83.90)(30.42,84.40)(30.55,85.00)(30.85,85.45)(31.20,85.80)(31.60,85.90)(31.85,85.70)(31.70,85.25)(31.40,84.60)(31.15,84.10)(30.90,83.80)}
\C{(30.65,84.00)(30.55,84.40)(30.70,85.00)(31.05,85.40)(31.40,85.55)(31.55,85.35)(31.30,84.85)(31.05,84.30)(30.85,84.00)}
\Ln{(35,81.97)(30.42,81.97)}
\Ln{(35,83.72)(30.65,83.72)}
\Ln{(35,85.09)(29.10,85.09)}
\Ln{(35,85.55)(30.97,85.55)}
\Ln{(35,86.47)(34.00,86.47)}
\Ln{(35,87.68)(32.00,87.68)}
\Dots{(30.42,81.97)(30.65,83.78)(29.10,85.09)(30.97,85.57)(34.00,86.47)(32.00,87.68)}
\Red{2}{(35,82.73)(29.57,82.73)}
\end{axis}

% legend bar and text, in picture pixels
\begin{scope}[x=.5pt,y=-.5pt]
\fill[hx] (675,187) rectangle (772,217);
\fill[cl] (772,187) rectangle (868.7,217);
\fill[sh] (868.7,187) rectangle (962.7,217);
\tikzset{lbl/.style={inner sep=0pt,anchor=center}}
\node[lbl,font=\Fs{16.2}\itshape] at (725,170) {helix};
\node[lbl,font=\Fs{16.2}\itshape] at (821.7,168) {coil};
\node[lbl,font=\Fs{16.2}\itshape] at (918,170) {sheet};
\node[lbl,font=\Fs{20}] at (209,24) {{\bfseries\itshape C}{\symf α}};
\node[lbl,font=\Fs{20}] at (429,25) {{\bfseries\itshape C}{\symf β}};
\node[lbl,font=\Fs{20}] at (714,298) {{\bfseries\itshape C}{\symf α}};
\node[lbl,font=\Fs{20}] at (923,300) {{\bfseries\itshape C}{\symf β}};
\node[lbl,font=\Fs{18.7}\bfseries] at (127,75) {(a)};
\node[lbl,font=\Fs{18.7}\bfseries] at (124,338) {(b)};
\node[lbl,font=\Fs{18.7}\bfseries] at (662,346) {(c)};
\node[lbl,font=\Fs{18.7}\bfseries] at (128.6,612) {(d)};
\node[lbl,font=\Fs{18.7}\bfseries] at (633,607) {(e)};
\node[lbl,font=\Fs{13.6}] at (322,881.7) {SQ \textsuperscript{13}C chemical shift (ppm)};
\node[lbl,font=\Fs{13.6}] at (836.7,881.7) {SQ \textsuperscript{13}C chemical shift (ppm)};
\node[lbl,font=\Fs{13.6},rotate=90] at (26,411.5) {DQ \textsuperscript{13}C chemical shift (ppm)};
\end{scope}
\end{tikzpicture}
\end{document}
